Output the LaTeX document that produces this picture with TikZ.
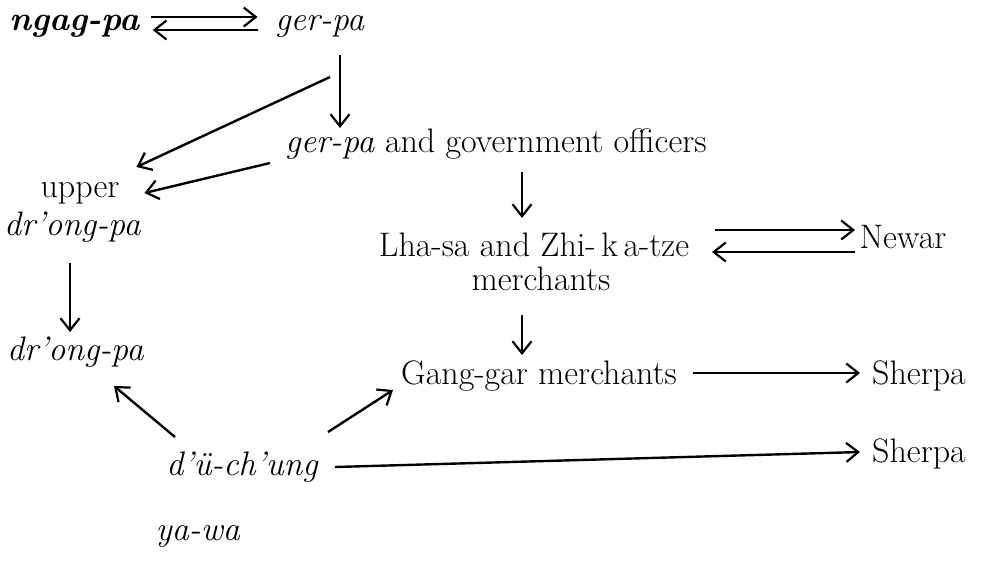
\documentclass[tikz,border=0pt]{standalone}
\usepackage{fontspec}
\usetikzlibrary{arrows.meta,calc}
\begin{document}
\begin{tikzpicture}[x=0.5pt,y=-0.5pt,
  lbl/.style={inner sep=0pt,outer sep=0pt,anchor=base,
    text height=11pt,text depth=3.5pt,
    font=\fontsize{17pt}{20pt}\selectfont},
  arr/.style={line width=1.2pt,-{Straight Barb[length=6pt,width=9.5pt,line width=1.1pt]}}]
\fill[white] (0,0) rectangle (983,569);
\useasboundingbox (0,0) rectangle (983,569);

% labels, placed by their baselines
\node[lbl,minimum width=65pt]  (ngag)    at (75,30)   {\textbf{\textit{ngag-pa}}};
\node[lbl,minimum width=45.5pt](ger)     at (320,30)  {\textit{ger-pa}};
\node[lbl,minimum width=224pt] (gergov)  at (496,152) {\textit{ger-pa} and government officers};
\node[lbl,minimum width=38pt]  (upper)   at (80,197)  {upper};
\node[lbl,minimum width=67.5pt](drong1)  at (72.5,235){\textit{dr'ong-pa}};
\node[lbl,minimum width=67.5pt](drong2)  at (75.5,360){\textit{dr'ong-pa}};
\node[lbl,minimum width=171pt] (lhasa)   at (534,256) {Lha-sa and Zhi-\,k\,a-tze};
\node[lbl,minimum width=71pt]  (merch)   at (541,290) {merchants};
\node[lbl,minimum width=45pt]  (newar)   at (903,248) {Newar};
\node[lbl,minimum width=141pt] (gang)    at (539,384) {Gang-gar merchants};
\node[lbl,minimum width=51pt]  (sherpa1) at (919,384) {Sherpa};
\node[lbl,minimum width=79.5pt](duchung) at (242.5,475){\textit{d'ü-ch'ung}};
\node[lbl,minimum width=51pt]  (sherpa2) at (919,462) {Sherpa};
\node[lbl]                     (yawa)    at (198,540) {\textit{ya-wa}};

% exchange between ngag-pa and ger-pa
\draw[arr] ($(ngag.base east)+(10,-13)$) -- ($(ger.base west)+(-17,-13)$);
\draw[arr] ($(ger.base west)+(-17,0)$) -- ($(ngag.base east)+(12,0)$);

% ger-pa downwards
\draw[arr] ($(ger.base)+(20,25)$) -- ($(gergov.base west)+(68,-24)$);
\draw[arr] ($(ger.base)+(10,47)$) -- ($(upper.base east)+(17,-30)$);
\draw[arr] ($(gergov.base west)+(-2,11)$) -- ($(upper.base east)+(25,-4)$);

% dr'ong-pa chain
\draw[arr] ($(drong1.base)+(-2.5,28)$) -- ($(drong2.base)+(-5.5,-28)$);

% merchants chain
\draw[arr] ($(gergov.base)+(26,20)$) -- ($(lhasa.base)+(-12,-38)$);
\draw[arr] ($(lhasa.base east)+(10,-26)$) -- ($(newar.base west)+(-3,-18)$);
\draw[arr] ($(newar.base west)+(-3,4)$) -- ($(lhasa.base east)+(7,-4)$);
\draw[arr] ($(merch.base)+(-19,25)$) -- ($(gang.base)+(-17,-29)$);
\draw[arr] ($(gang.base east)+(13,-11)$) -- ($(sherpa1.base west)+(-8,-11)$);

% from d'ü-ch'ung
\draw[arr] ($(duchung.base west)+(12,-38)$) -- ($(drong2.base west)+(107,26)$);
\draw[arr] ($(duchung.base east)+(6,-43)$) -- ($(gang.base west)+(-5,6)$);
\draw[arr] ($(duchung.base east)+(13,-8)$) -- ($(sherpa2.base west)+(-8,-10)$);
\end{tikzpicture}
\end{document}
